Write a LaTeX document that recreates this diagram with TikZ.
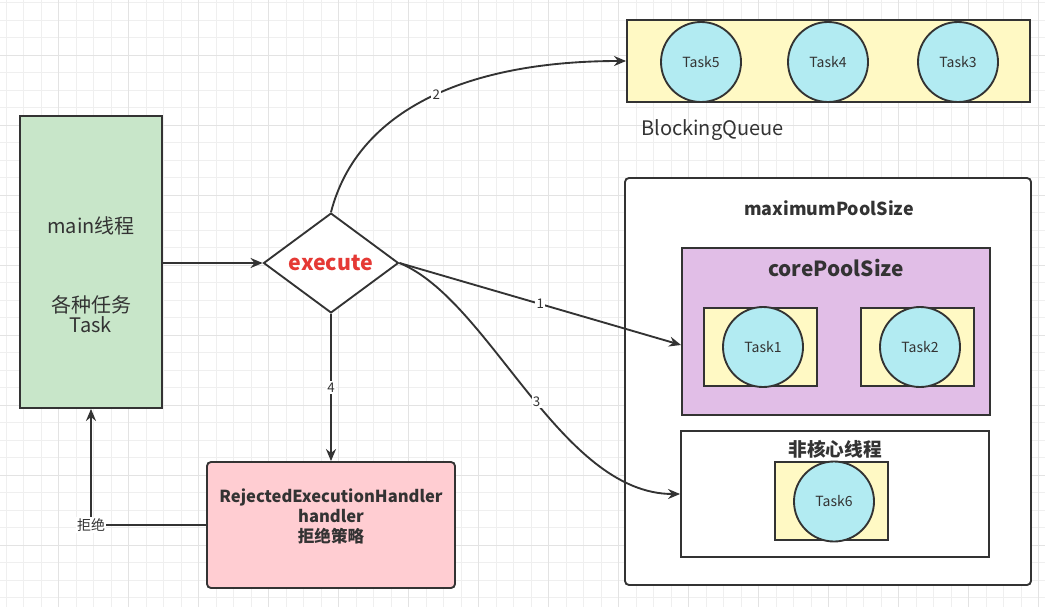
\documentclass[tikz,border=0pt]{standalone}
\usepackage{fontspec}
\setmainfont{Noto Sans CJK SC}
\usetikzlibrary{shapes.geometric,arrows.meta,calc}
\definecolor{ink}{HTML}{333333}
\definecolor{gridminor}{HTML}{EFEFEF}
\definecolor{gridmajor}{HTML}{E3E3E3}
\definecolor{mgreen}{HTML}{C8E6C9}
\definecolor{mpink}{HTML}{FFCDD2}
\definecolor{myellow}{HTML}{FFF9C4}
\definecolor{mcyan}{HTML}{B2EBF2}
\definecolor{mpurple}{HTML}{E1BEE7}
\definecolor{mred}{HTML}{E53935}
\def\u{0.75pt}
\tikzset{
  box/.style={draw=ink, line width=1.4pt, inner sep=0pt},
  taskc/.style={circle, draw=ink, line width=1.4pt, fill=mcyan, minimum size=80*\u, inner sep=0pt, text=ink, font=\fontsize{10.5pt}{12pt}\selectfont},
  txt/.style={text=ink, inner sep=0pt},
  arr/.style={draw=ink, line width=1.4pt, -{Stealth[length=9pt,width=7.5pt]}},
  lbl/.style={fill=white, text=ink, inner sep=1pt, font=\fontsize{10pt}{11pt}\selectfont},
}
\begin{document}
\begin{tikzpicture}[x=0.75pt,y=-0.75pt]
\useasboundingbox (0,0) rectangle (1045,607);
\fill[white] (0,0) rectangle (1045,607);
% grid
\foreach \x in {6,23.5,...,1045} \draw[gridminor, line width=0.6pt] (\x,0) -- (\x,607);
\foreach \y in {2.5,20,...,607} \draw[gridminor, line width=0.6pt] (0,\y) -- (1045,\y);
\foreach \x in {58.5,128.5,...,1045} \draw[gridmajor, line width=0.6pt] (\x,0) -- (\x,607);
\foreach \y in {55,125,...,607} \draw[gridmajor, line width=0.6pt] (0,\y) -- (1045,\y);

% main thread
\node[box, fill=mgreen, minimum width=142*\u, minimum height=292*\u] (main) at (91,262) {};
\node[txt, font=\fontsize{15pt}{18pt}\selectfont] (mainT1) at (91,226) {main线程};
\node[txt, font=\fontsize{15pt}{18pt}\selectfont, align=center] (mainT2) at (91,314) {各种任务\\[-3pt]Task};

% execute diamond
\node[diamond, draw=ink, line width=1.4pt, fill=white, minimum width=135*\u, minimum height=90*\u, inner sep=0pt, text=mred, font=\fontsize{16pt}{18pt}\selectfont\bfseries] (dia) at (331,263) {execute};

% rejection handler
\node[box, fill=mpink, rounded corners=3pt, minimum width=248*\u, minimum height=126*\u] (rej) at (331,525) {};
\node[txt, align=center, font=\fontsize{12.4pt}{15pt}\selectfont\bfseries] (rejT) at (331,516) {RejectedExecutionHandler\\handler\\拒绝策略};

% blocking queue
\node[box, fill=myellow, minimum width=403*\u, minimum height=82*\u] (queue) at (828.5,61) {};
\node[taskc] (t5) at (701,62) {Task5};
\node[taskc] (t4) at (828,62) {Task4};
\node[taskc] (t3) at (958,62) {Task3};
\node[txt, anchor=west, font=\fontsize{15pt}{18pt}\selectfont] (bq) at (641,130) {BlockingQueue};

% maximum pool
\node[box, fill=white, rounded corners=3pt, minimum width=406*\u, minimum height=407*\u] (maxp) at (828,381.5) {};
\node[txt, font=\fontsize{13.4pt}{15pt}\selectfont\bfseries] (maxT) at (829,208) {maximumPoolSize};

% core pool
\node[box, fill=mpurple, minimum width=308*\u, minimum height=167*\u] (core) at (836,331.5) {};
\node[txt, font=\fontsize{15.6pt}{17pt}\selectfont\bfseries] (coreT) at (836,268) {corePoolSize};
\node[box, fill=myellow, minimum width=113*\u, minimum height=78*\u] (b1) at (760.5,347) {};
\node[taskc] (t1) at (763,347) {Task1};
\node[box, fill=myellow, minimum width=113*\u, minimum height=78*\u] (b2) at (917.5,347) {};
\node[taskc] (t2) at (920,347) {Task2};

% non-core threads
\node[box, fill=white, minimum width=308*\u, minimum height=126*\u] (noncore) at (835,494) {};
\node[txt, font=\fontsize{14pt}{17pt}\selectfont\bfseries] (ncT) at (835,449) {非核心线程};
\node[box, fill=myellow, minimum width=113*\u, minimum height=78*\u] (b6) at (831.5,501) {};
\node[taskc] (t6) at (834,501.5) {Task6};

% connectors
\draw[arr] (main.east |- dia.west) -- (dia.west);
\draw[arr] (dia.north) .. controls (358,108) and (470,61) .. (queue.west) node[lbl, pos=0.52] (l2) {2};
\draw[arr] (dia.east) -- ($(core.west)+(0,13.5)$) node[lbl, pos=0.5] (l1) {1};
\draw[arr] (dia.east) .. controls (490,300) and (560,494) .. (noncore.west) node[lbl, pos=0.53] (l3) {3};
\draw[arr] (dia.south) -- (rej.north) node[lbl, pos=0.5] (l4) {4};
\draw[arr] (rej.west) -| (main.south);
\node[lbl, font=\fontsize{10.5pt}{12pt}\selectfont] (lrej) at (91,525) {拒绝};
\end{tikzpicture}
\end{document}
